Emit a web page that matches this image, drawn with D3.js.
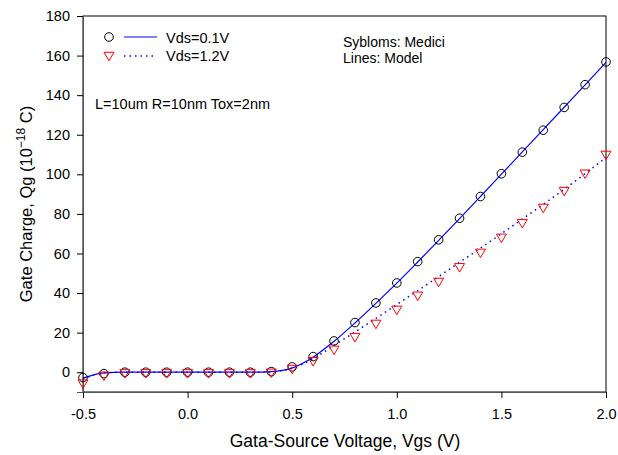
<!DOCTYPE html>
<html><head><meta charset="utf-8">
<script src="https://cdn.jsdelivr.net/npm/d3@7"></script>
<style>body{margin:0;background:#fff}svg{display:block}text{font-family:"Liberation Sans",Arial,sans-serif}</style>
</head><body>
<svg id="c" width="618" height="455"></svg>
<script>
const vgs = [-0.5,-0.4,-0.3,-0.2,-0.1,0.0,0.1,0.2,0.3,0.4,0.5,0.6,0.7,0.8,0.9,1.0,1.1,1.2,1.3,1.4,1.5,1.6,1.7,1.8,1.9,2.0];
const mediciVds01 = [-2.7,-0.7,0,0,0,0,0,0,0,0.3,2.7,7.9,15.8,25.1,35.0,45.1,55.9,66.9,77.8,88.8,100.3,111.2,122.3,133.8,145.3,156.8];
const mediciVds12 = [-5.8,-1.8,-0.6,-0.6,-0.6,-0.6,-0.6,-0.6,-0.6,-0.3,1.6,5.5,11.3,17.7,24.4,31.5,38.6,45.6,53.0,60.3,67.9,75.3,83.0,91.5,100.3,109.8];
const modelVds01 = [-3.0,-0.3,0,0,0,0,0,0,0,0.3,2.2,7.6,15.6,24.9,34.8,45.0,55.7,66.6,77.6,88.8,100.1,111.3,122.6,133.9,145.2,156.6];
const modelVds12 = [-3.5,-0.3,0,0,0,0,0,0,0,0.3,2.0,6.8,13.5,20.3,27.2,34.2,41.2,48.3,55.5,62.7,70.0,77.4,84.8,92.4,100.3,108.5];
const xTicks = [-0.5,0.0,0.5,1.0,1.5,2.0];
const yTicks = [0,20,40,60,80,100,120,140,160,180];
const legendLabels = ["Vds=0.1V","Vds=1.2V"];

const svg = d3.select("#c");
const x = d3.scaleLinear().domain([-0.5,2.0]).range([83,606]);
const y = d3.scaleLinear().domain([-10,180]).range([392,16]);

// frame
svg.append("rect").attr("x",83).attr("y",16).attr("width",523).attr("height",376)
  .attr("fill","none").attr("stroke","#000").attr("stroke-width",1);

const xAxis = svg.append("g").attr("transform","translate(0,392)")
  .call(d3.axisBottom(x).tickValues(xTicks).tickSize(6).tickPadding(11));
const yAxis = svg.append("g").attr("transform","translate(83,0)")
  .call(d3.axisLeft(y).tickValues(yTicks).tickSize(6).tickPadding(7));
[xAxis,yAxis].forEach(g=>{
  g.select(".domain").attr("stroke","#555");
  g.selectAll(".tick line").attr("stroke","#000");
  g.selectAll("text").attr("font-size",14.5).attr("fill","#000").attr("font-family","Liberation Sans, Arial, sans-serif");
});
xAxis.selectAll(".tick text").text(d=> d<0 ? "-"+Math.abs(d).toFixed(1) : d.toFixed(1));

// lines
const line = d3.line().x(d=>x(d[0])).y(d=>y(d[1])).curve(d3.curveMonotoneX);
svg.append("path").datum(vgs.map((v,i)=>[v,modelVds01[i]])).attr("d",line)
  .attr("fill","none").attr("stroke","#0000ff").attr("stroke-width",1.2);
svg.append("path").datum(vgs.map((v,i)=>[v,modelVds12[i]])).attr("d",line)
  .attr("fill","none").attr("stroke","#0000ff").attr("stroke-width",1.5).attr("stroke-dasharray","1.5,4");

// symbols
const tri = (cx,cy,s)=>`M${cx-s},${cy-s*0.75}L${cx+s},${cy-s*0.75}L${cx},${cy+s*0.95}Z`;
svg.append("g").selectAll("circle").data(vgs.map((v,i)=>[v,mediciVds01[i]])).join("circle")
  .attr("cx",d=>x(d[0])).attr("cy",d=>y(d[1])).attr("r",4.3)
  .attr("fill","none").attr("stroke","#000").attr("stroke-width",1);
svg.append("g").selectAll("path").data(vgs.map((v,i)=>[v,mediciVds12[i]])).join("path")
  .attr("d",d=>tri(x(d[0]),y(d[1]),5)).attr("fill","none").attr("stroke","#ff0000").attr("stroke-width",1);

// legend
const lg = svg.append("g");
lg.append("circle").attr("cx",109).attr("cy",37).attr("r",4.3).attr("fill","none").attr("stroke","#000");
lg.append("line").attr("x1",124).attr("x2",157).attr("y1",37).attr("y2",37).attr("stroke","#0000ff").attr("stroke-width",1.2);
lg.append("path").attr("d",tri(109,56,5)).attr("fill","none").attr("stroke","#ff0000");
lg.append("line").attr("x1",124).attr("x2",157).attr("y1",56).attr("y2",56).attr("stroke","#0000ff").attr("stroke-width",1.5).attr("stroke-dasharray","1.5,4");
lg.selectAll("text.l").data(legendLabels).join("text").attr("class","l")
  .attr("x",166).attr("y",(d,i)=>43+i*18).attr("font-size",14.5).text(d=>d);

svg.append("text").attr("x",95).attr("y",109).attr("font-size",14.5).text("L=10um R=10nm Tox=2nm");
svg.append("text").attr("x",343).attr("y",47).attr("font-size",14).text("Sybloms: Medici");
svg.append("text").attr("x",343).attr("y",63).attr("font-size",14).text("Lines: Model");

// axis titles
svg.append("text").attr("x",345).attr("y",447).attr("text-anchor","middle").attr("font-size",17.5).text("Gata-Source Voltage, Vgs (V)");
const yt = svg.append("text").attr("transform","translate(32,204) rotate(-90)").attr("text-anchor","middle").attr("font-size",16.5);
yt.append("tspan").text("Gate Charge, Qg (10");
yt.append("tspan").attr("dy",-7).attr("font-size",12).text("\u221218");
yt.append("tspan").attr("dy",7).text(" C)");
</script>
</body></html>
